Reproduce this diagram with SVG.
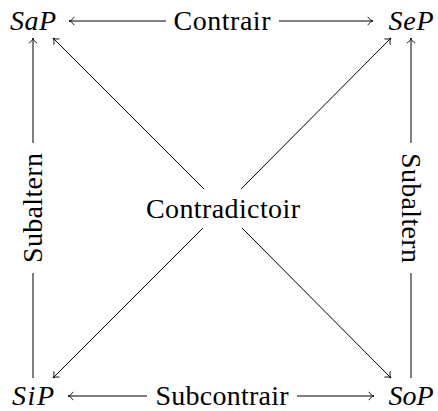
<svg xmlns="http://www.w3.org/2000/svg" width="438" height="411" viewBox="0 0 438 411">
<style>
text{font-family:"Liberation Serif","Times New Roman",serif;font-size:28px;fill:#000;text-anchor:middle}
.m{font-style:italic}
.e{fill:none;stroke:#000;stroke-width:1}
.a{marker-end:url(#to)}
</style>
<defs>
<marker id="to" markerWidth="12" markerHeight="12" viewBox="-6 -6 12 12" refX="0" refY="0" orient="auto" markerUnits="userSpaceOnUse" overflow="visible">
<path d="M-5,-3.8 C-3.8,-1.7 -1.6,-0.4 0,0 C-1.6,0.4 -3.8,1.7 -5,3.8" fill="none" stroke="#000" stroke-width="0.9" stroke-linecap="round"/>
</marker>
</defs>
<rect width="438" height="411" fill="#fff"/>
<g id="connectors">
<g id="contrair">
<path class="e a" d="M166,21H69"/>
<path class="e a" d="M279,21H373"/>
<text x="222" y="30" textLength="97" lengthAdjust="spacing">Contrair</text>
</g>
<g id="subcontrair">
<path class="e a" d="M147,396H68"/>
<path class="e a" d="M297,396H374"/>
<text x="222" y="404.5" textLength="133" lengthAdjust="spacing">Subcontrair</text>
</g>
<g id="subaltern-left">
<path class="e" d="M33,378V273"/>
<path class="e a" d="M33,143V38"/>
<text transform="translate(42,208) rotate(-90)" textLength="110" lengthAdjust="spacing">Subaltern</text>
</g>
<g id="subaltern-right">
<path class="e" d="M411,378V273"/>
<path class="e a" d="M411,143V38"/>
<text transform="translate(402,208) rotate(90)" textLength="110" lengthAdjust="spacing">Subaltern</text>
</g>
<g id="contradictoir-edges">
<path class="e a" d="M204,189L53,38"/>
<path class="e a" d="M241,189L391,38"/>
<path class="e a" d="M203,228L53,378"/>
<path class="e a" d="M242,228L391,378"/>
</g>
</g>
<g id="SaP"><text class="m" x="33" y="30" textLength="46" lengthAdjust="spacing">SaP</text></g>
<g id="SeP"><text class="m" x="411" y="30" textLength="45" lengthAdjust="spacing">SeP</text></g>
<g id="SiP"><text class="m" x="33" y="404.5" textLength="42" lengthAdjust="spacing">SiP</text></g>
<g id="SoP"><text class="m" x="411" y="404.5" textLength="45" lengthAdjust="spacing">SoP</text></g>
<g id="Contradictoir"><text x="223" y="218" textLength="154" lengthAdjust="spacing">Contradictoir</text></g>
</svg>
